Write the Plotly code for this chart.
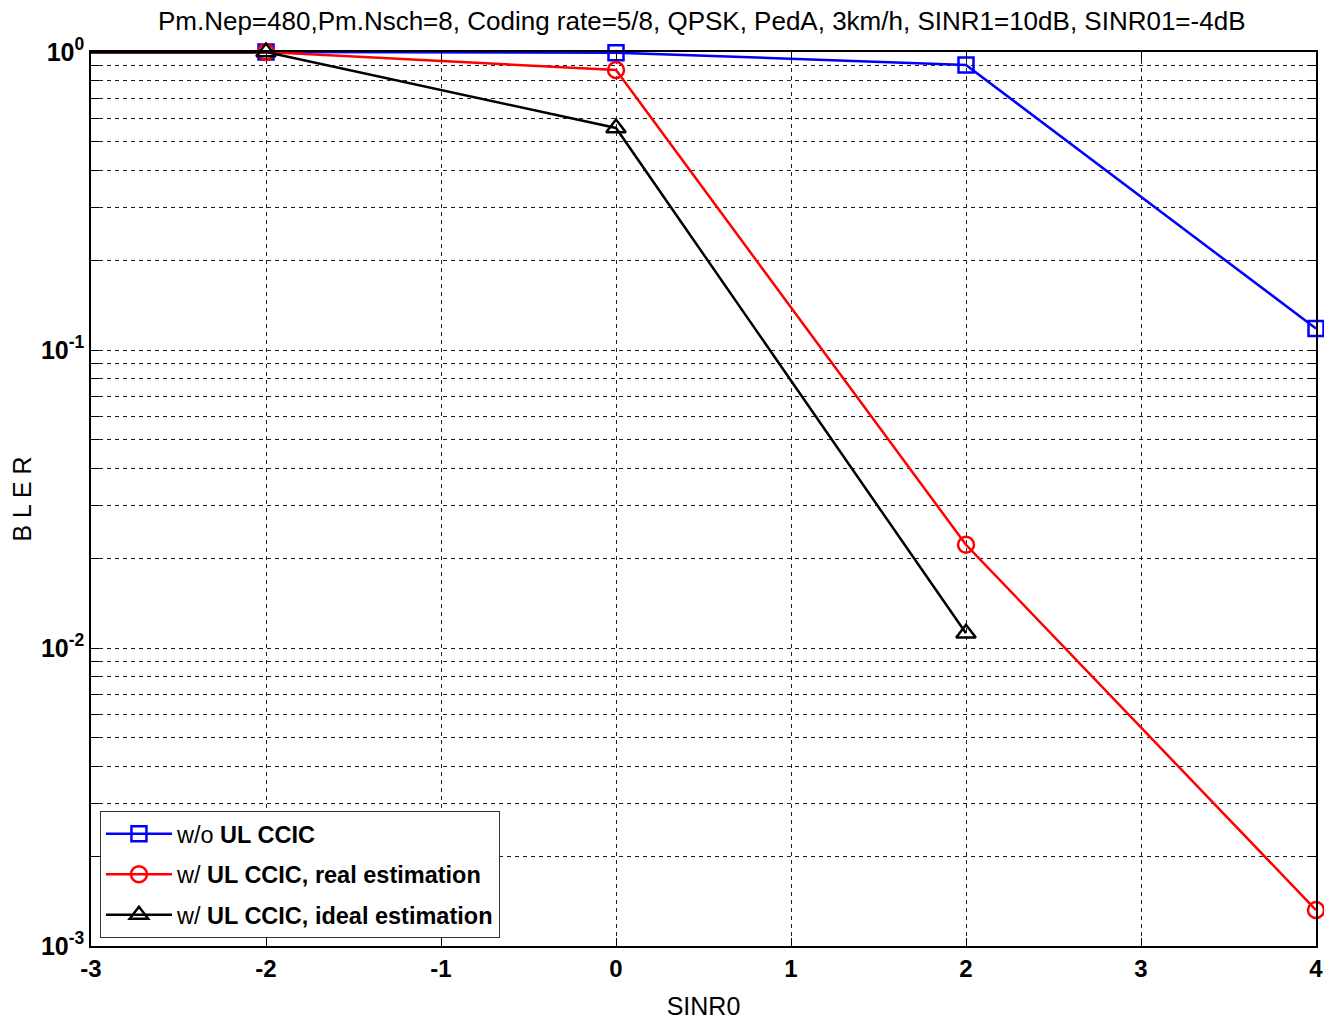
import plotly.graph_objects as go

sinr0 = [-3, -2, 0, 2, 4]
bler_wo = [1.0, 1.0, 0.995, 0.905, 0.118]
bler_real = [1.0, 1.0, 0.87, 0.0222, 0.00132]
sinr0_ideal = [-3, -2, 0, 2]
bler_ideal = [1.0, 1.0, 0.556, 0.0112]

names = ["w/o <b>UL CCIC</b>", "w/ <b>UL CCIC, real estimation</b>", "w/ <b>UL CCIC, ideal estimation</b>"]
colors = ["#0000ff", "#ff0000", "#000000"]
symbols = ["square-open", "circle-open", "triangle-up-open"]
msizes = [15, 16, 17]

x_ticks = [-3, -2, -1, 0, 1, 2, 3, 4]
decades = [-3, -2, -1, 0]

y_vals, y_text = [], []
for d in decades:
    for m in range(1, 10):
        if d == 0 and m > 1:
            break
        y_vals.append(m * 10 ** d)
        y_text.append(f"<b>10<sup>{d}</sup></b>" if m == 1 else "")

fig = go.Figure()
series = [(sinr0, bler_wo), (sinr0, bler_real), (sinr0_ideal, bler_ideal)]
# first segment (-3 to -2) drawn without markers
for (xs, ys), c in zip(series, colors):
    fig.add_trace(go.Scatter(
        x=xs[:2], y=ys[:2], mode="lines", showlegend=False, hoverinfo="skip",
        line=dict(color=c, width=3), cliponaxis=False,
    ))
for i, ((xs, ys), name, c, s, ms) in enumerate(zip(series, names, colors, symbols, msizes)):
    fig.add_trace(go.Scatter(
        x=xs[1:], y=ys[1:], name=name, mode="lines+markers", legendgroup=f"g{i}",
        line=dict(color=c, width=2.5), cliponaxis=False,
        marker=dict(symbol=s, size=ms, color=c, line=dict(color=c, width=2.5)),
    ))

font_cond = "Liberation Sans Narrow, Arial Narrow, Liberation Sans, sans-serif"
W, H = 1324, 1020
fig.update_layout(
    width=W, height=H,
    margin=dict(l=91, r=W - 1316, t=52, b=H - 946, autoexpand=False),
    paper_bgcolor="white", plot_bgcolor="white",
    title=dict(text="Pm.Nep=480,Pm.Nsch=8, Coding rate=5/8, QPSK, PedA, 3km/h, SINR1=10dB, SINR01=-4dB",
               x=0.53, xanchor="center", y=1 - 21 / H, yanchor="middle",
               font=dict(family=font_cond, size=26, color="black")),
    font=dict(family="Liberation Sans, Arial, sans-serif", color="black"),
    showlegend=True,
    legend=dict(x=0.0073, y=0.009, xanchor="left", yanchor="bottom",
                bgcolor="white", bordercolor="#333333", borderwidth=1,
                font=dict(family="Liberation Sans, Arial, sans-serif", size=23.5, color="black"),
                itemwidth=66, tracegroupgap=7),
)
fig.update_xaxes(
    range=[-3, 4], tickvals=x_ticks, ticktext=[f"<b>{v}</b>" for v in x_ticks],
    tickfont=dict(size=24, family="Liberation Sans, Arial, sans-serif"),
    ticks="inside", ticklen=8, tickcolor="black", automargin=False,
    showline=True, linecolor="black", linewidth=1.5, mirror="allticks",
    showgrid=True, gridcolor="#222222", gridwidth=1, griddash="4px,4px",
    zeroline=False,
    title=dict(text="SINR0", font=dict(family=font_cond, size=25), standoff=18),
)
fig.update_yaxes(
    type="log", range=[-3, 0], tickvals=y_vals, ticktext=y_text,
    tickfont=dict(size=25, family="Liberation Sans, Arial, sans-serif"),
    ticks="inside", ticklen=8, tickcolor="black", automargin=False,
    showline=True, linecolor="black", linewidth=1.5, mirror="allticks",
    showgrid=True, gridcolor="#222222", gridwidth=1, griddash="4px,4px",
    zeroline=False,
    title=dict(text="B L E R", font=dict(family=font_cond, size=25), standoff=2),
)
fig.write_html(
    "out.html",
    config={"displayModeBar": False},
    post_script="document.body.style.margin='0';document.body.style.overflow='hidden';",
)
